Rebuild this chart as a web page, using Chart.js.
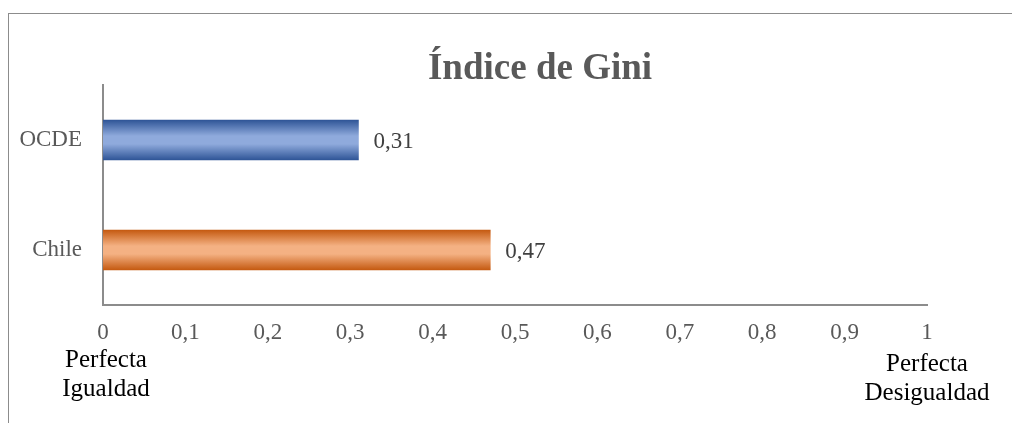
<!DOCTYPE html>
<html>
<head>
<meta charset="utf-8">
<script src="https://cdn.jsdelivr.net/npm/chart.js@4.4.1/dist/chart.umd.min.js"></script>
<style>
	html, body { margin: 0; padding: 0; background: #fff; }
	#wrap { position: relative; width: 1012px; height: 423px; overflow: hidden; }
	#frame {
		position: absolute; left: 8px; top: 13px; width: 1100px; height: 500px;
		border-left: 1px solid #8c8c8c; border-top: 1px solid #8c8c8c;
	}
	canvas { position: absolute; left: 0; top: 0; }
</style>
</head>
<body>
<div id="wrap">
	<div id="frame"></div>
	<canvas id="gini" width="1012" height="423"></canvas>
</div>
<script>
// Chart data
var categories = ['OCDE', 'Chile'];
var giniValues = [0.31, 0.47];
var xTicks = [0, 0.1, 0.2, 0.3, 0.4, 0.5, 0.6, 0.7, 0.8, 0.9, 1];
var titleText = 'Índice de Gini';
var leftNote = ['Perfecta', 'Igualdad'];
var rightNote = ['Perfecta', 'Desigualdad'];

// Gradient colours per bar: [edge, centre]
var barColors = [
	['#2f5597', '#8faadc'],
	['#c55a11', '#f4b183']
];

var serif = 'Liberation Serif';
var BAR_H = 40;

function fmt(v) {
	return String(v).replace('.', ',');
}

var barGradient = function(context) {
	var chart = context.chart;
	var cols = barColors[context.dataIndex];
	var yScale = chart.scales.y;
	if (!yScale || !chart.chartArea) {
		return cols[1];
	}
	var yc = yScale.getPixelForValue(context.dataIndex);
	var g = chart.ctx.createLinearGradient(0, yc - BAR_H / 2, 0, yc + BAR_H / 2);
	g.addColorStop(0, cols[0]);
	g.addColorStop(0.4, cols[1]);
	g.addColorStop(0.6, cols[1]);
	g.addColorStop(1, cols[0]);
	return g;
};

// Title, value labels and the two notes under the axis
var textPlugin = {
	id: 'giniText',
	afterDatasetsDraw: function(chart) {
		var ctx = chart.ctx;
		var meta = chart.getDatasetMeta(0);
		ctx.save();

		// Title
		ctx.fillStyle = '#595959';
		ctx.font = 'bold 37px "' + serif + '"';
		ctx.textAlign = 'center';
		ctx.textBaseline = 'alphabetic';
		ctx.fillText(titleText, 540, 79);

		// Value labels
		ctx.font = '23px "' + serif + '"';
		ctx.fillStyle = '#404040';
		ctx.textAlign = 'left';
		ctx.textBaseline = 'middle';
		meta.data.forEach(function(bar, i) {
			ctx.fillText(fmt(giniValues[i]), bar.x + 15, bar.y + 2);
		});

		// Notes under the axis
		ctx.fillStyle = '#000';
		ctx.font = '25px "' + serif + '"';
		ctx.textAlign = 'center';
		ctx.textBaseline = 'alphabetic';
		var xl = chart.scales.x.getPixelForValue(0) + 3;
		ctx.fillText(leftNote[0], xl, 367);
		ctx.fillText(leftNote[1], xl, 396);
		var xr = chart.scales.x.getPixelForValue(1);
		ctx.fillText(rightNote[0], xr, 371);
		ctx.fillText(rightNote[1], xr, 400);

		ctx.restore();
	}
};

var ctx = document.getElementById('gini').getContext('2d');
var giniChart = new Chart(ctx, {
	type: 'bar',
	data: {
		labels: categories,
		datasets: [{
			label: 'Gini',
			data: giniValues,
			backgroundColor: barGradient,
			borderWidth: 0,
			barThickness: BAR_H
		}]
	},
	options: {
		indexAxis: 'y',
		responsive: false,
		animation: false,
		layout: {
			padding: { left: 0, right: 85, top: 85, bottom: 78 }
		},
		plugins: {
			legend: { display: false },
			title: { display: false },
			tooltip: { enabled: false }
		},
		scales: {
			x: {
				min: 0,
				max: 1,
				afterBuildTicks: function(axis) {
					axis.ticks = xTicks.map(function(v) { return { value: v }; });
				},
				afterFit: function(axis) { axis.height = 40; },
				grid: { display: false, drawTicks: false },
				border: { display: true, color: '#8c8c8c', width: 2 },
				ticks: {
					color: '#595959',
					font: { family: serif, size: 23 },
					padding: 14,
					maxRotation: 0,
					autoSkip: false,
					callback: function(value) { return fmt(value); }
				}
			},
			y: {
				grid: { display: false, drawTicks: false },
				border: { display: true, color: '#8c8c8c', width: 2 },
				afterFit: function(axis) { axis.width = 103; },
				ticks: {
					color: '#595959',
					font: { family: serif, size: 23 },
					padding: 21
				}
			}
		}
	},
	plugins: [textPlugin]
});
</script>
</body>
</html>
